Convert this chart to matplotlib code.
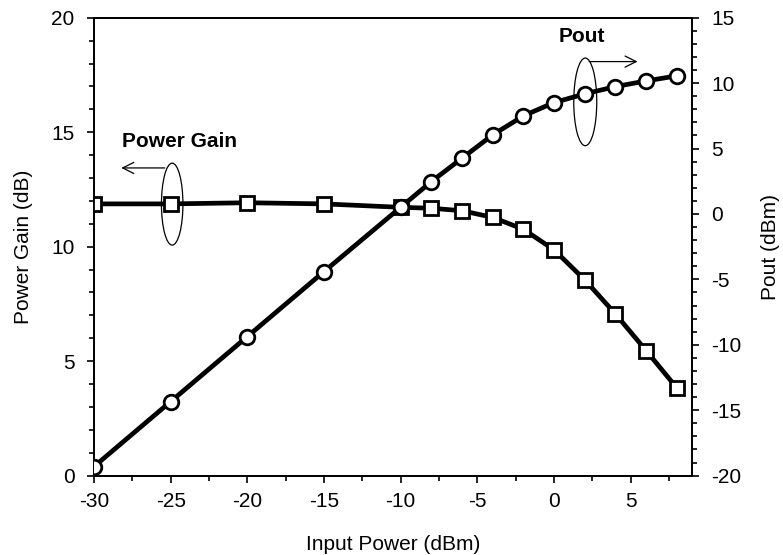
import matplotlib
matplotlib.use("Agg")
import matplotlib.pyplot as plt
from matplotlib.patches import Ellipse
from matplotlib.ticker import MultipleLocator

plt.rcParams['font.family'] = ['Liberation Sans', 'DejaVu Sans']
plt.rcParams['axes.unicode_minus'] = False

pin = [-30, -25, -20, -15, -10, -8, -6, -4, -2, 0, 2, 4, 6, 8]
gain = [11.87, 11.87, 11.92, 11.87, 11.72, 11.68, 11.57, 11.28, 10.76, 9.86, 8.55, 7.06, 5.46, 3.83]
pout = [-19.31, -14.34, -9.37, -4.4, 0.52, 2.48, 4.27, 6.05, 7.5, 8.52, 9.18, 9.74, 10.17, 10.56]

fig = plt.figure(figsize=(7.83, 5.55), dpi=100)
ax = fig.add_axes([0.120, 0.143, 0.764, 0.825])
ax2 = ax.twinx()

ax.plot(pin, gain, color='black', lw=3.4, marker='s', ms=10.5, mfc='white', mec='black', mew=2, zorder=3)
ax2.plot(pin, pout, color='black', lw=3.4, marker='o', ms=10.5, mfc='white', mec='black', mew=2, zorder=3)

ax.set_xlim(-30, 9)
ax.set_ylim(0, 20)
ax2.set_ylim(-20, 15)
ax.xaxis.set_major_locator(MultipleLocator(5))
ax.xaxis.set_minor_locator(MultipleLocator(2.5))
ax.yaxis.set_major_locator(MultipleLocator(5))
ax.yaxis.set_minor_locator(MultipleLocator(1))
ax2.yaxis.set_major_locator(MultipleLocator(5))
ax2.yaxis.set_minor_locator(MultipleLocator(1))

for a in (ax, ax2):
    a.tick_params(which='major', direction='out', length=5, width=1.2, labelsize=15, colors='black')
    a.tick_params(which='minor', direction='out', length=3.6, width=1.2)
    for s in a.spines.values():
        s.set_linewidth(1.3)
ax.tick_params(axis='x', pad=7)
ax.tick_params(axis='y', pad=9)
ax2.tick_params(axis='y', pad=9)

ax.set_xlabel('Input Power (dBm)', fontsize=15, labelpad=17)
ax.set_ylabel('Power Gain (dB)', fontsize=15, labelpad=13)
ax2.set_ylabel('Pout (dBm)', fontsize=15, labelpad=14)

# annotations for Power Gain
ax.text(-28.2, 14.6, 'Power Gain', fontsize=15, fontweight='bold', ha='left', va='center')
ax.add_patch(Ellipse((-24.9, 11.86), 1.4, 3.58, fill=False, lw=0.9, ec='black', zorder=4))
ax.annotate('', xy=(-28.4, 13.44), xytext=(-25.2, 13.44),
            arrowprops=dict(arrowstyle='->', lw=0.9, color='black', mutation_scale=20))

# annotations for Pout
ax2.text(0.27, 13.54, 'Pout', fontsize=15, fontweight='bold', ha='left', va='center')
ax2.add_patch(Ellipse((2.03, 8.57), 1.5, 6.7, fill=False, lw=0.9, ec='black', zorder=4))
ax2.annotate('', xy=(5.62, 11.65), xytext=(2.1, 11.65),
             arrowprops=dict(arrowstyle='->', lw=0.9, color='black', mutation_scale=20))

fig.savefig('out.png', dpi=100)
